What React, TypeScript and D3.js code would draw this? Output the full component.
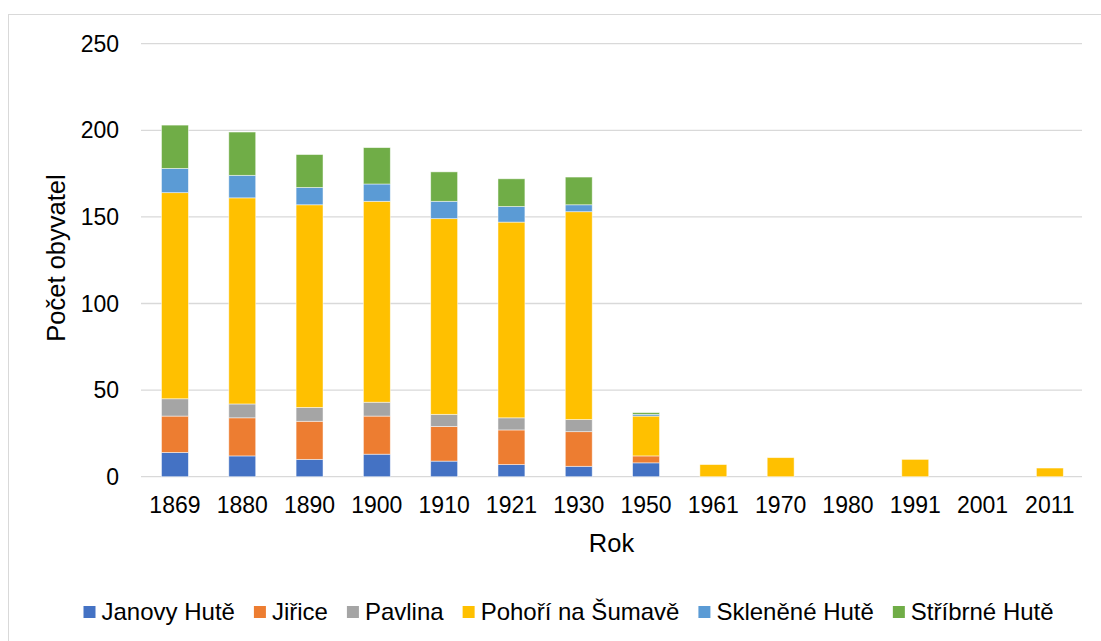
import React, { useMemo } from "react";
import * as d3 from "d3";

const years = ["1869", "1880", "1890", "1900", "1910", "1921", "1930", "1950", "1961", "1970", "1980", "1991", "2001", "2011"];

const seriesNames = ["Janovy Hutě", "Jiřice", "Pavlina", "Pohoří na Šumavě", "Skleněné Hutě", "Stříbrné Hutě"];
const seriesColors = ["#4472C4", "#ED7D31", "#A5A5A5", "#FFC000", "#5B9BD5", "#70AD47"];

const janovyHute = [14, 12, 10, 13, 9, 7, 6, 8, 0, 0, 0, 0, 0, 0];
const jirice = [21, 22, 22, 22, 20, 20, 20, 4, 0, 0, 0, 0, 0, 0];
const pavlina = [10, 8, 8, 8, 7, 7, 7, 0, 0, 0, 0, 0, 0, 0];
const pohori = [119, 119, 117, 116, 113, 113, 120, 23, 7, 11, 0, 10, 0, 5];
const sklenene = [14, 13, 10, 10, 10, 9, 4, 1, 0, 0, 0, 0, 0, 0];
const stribrne = [25, 25, 19, 21, 17, 16, 16, 1, 0, 0, 0, 0, 0, 0];

const yTicks = [0, 50, 100, 150, 200, 250];

const font = "'Liberation Sans', Arial, sans-serif";

const measure = (txt: string, size: number) => {
  const c = document.createElement("canvas").getContext("2d");
  if (!c) return txt.length * size * 0.55;
  c.font = `${size}px ${font}`;
  return c.measureText(txt).width;
};

export default function App() {
  const width = 1101;
  const height = 641;
  const plot = { left: 141.3, right: 1083.5, top: 43.7, bottom: 476.7 };

  const { x, y, stacked } = useMemo(() => {
    const x = d3.scaleBand().domain(years).range([plot.left, plot.right]).padding(0);
    const y = d3.scaleLinear().domain([0, 250]).range([plot.bottom, plot.top]);
    const values = [janovyHute, jirice, pavlina, pohori, sklenene, stribrne];
    const rows = years.map((yr, i) => {
      const r: Record<string, any> = { year: yr };
      seriesNames.forEach((s, k) => (r[s] = values[k][i]));
      return r;
    });
    const stacked = d3.stack<any>().keys(seriesNames)(rows);
    return { x, y, stacked };
  }, []);

  const barW = x.bandwidth() * 0.4;

  // legend layout
  const legendSize = 24;
  let lx = 83.5;
  const legendItems = seriesNames.map((s, i) => {
    const item = { name: s, color: seriesColors[i], x: lx };
    lx += 12 + 6 + measure(s, legendSize) + 19;
    return item;
  });

  return (
    <div style={{ position: "absolute", left: 0, top: 0 }}>
      <svg width={width} height={height} style={{ display: "block", fontFamily: font }}>
        <rect x={0} y={0} width={width} height={height} fill="#fff" />
        <rect x={8.5} y={14.5} width={1120} height={660} fill="#fff" stroke="#d9d9d9" strokeWidth={1} />

        {/* gridlines */}
        {yTicks.map((t) => (
          <line key={t} x1={141} x2={1082} y1={y(t)} y2={y(t)} stroke="#d9d9d9" strokeWidth={1.3} />
        ))}

        {/* y tick labels */}
        {yTicks.map((t) => (
          <text key={`yt${t}`} x={119} y={y(t)} dy="0.35em" textAnchor="end" fontSize={23} fill="#000">
            {t}
          </text>
        ))}

        {/* bars */}
        {stacked.map((series, k) => (
          <g key={series.key} fill={seriesColors[k]}>
            {series.map((d, i) =>
              d[1] - d[0] > 0 ? (
                <rect
                  key={i}
                  x={(x(years[i]) as number) + (x.bandwidth() - barW) / 2}
                  y={y(d[1])}
                  width={barW}
                  height={y(d[0]) - y(d[1])}
                  stroke="#fff"
                  strokeOpacity={0.6}
                  strokeWidth={0.8}
                />
              ) : null
            )}
          </g>
        ))}

        {/* x tick labels */}
        {years.map((yr) => (
          <text key={yr} x={(x(yr) as number) + x.bandwidth() / 2} y={513} textAnchor="middle" fontSize={23} fill="#000">
            {yr}
          </text>
        ))}

        {/* axis titles */}
        <text x={611.5} y={551.5} textAnchor="middle" fontSize={25.5} fill="#000">
          Rok
        </text>
        <text transform="translate(65,258) rotate(-90)" textAnchor="middle" fontSize={25.5} fill="#000">
          Počet obyvatel
        </text>

        {/* legend */}
        {legendItems.map((it) => (
          <g key={it.name}>
            <rect x={it.x} y={606} width={12} height={12} fill={it.color} />
            <text x={it.x + 18} y={620} fontSize={legendSize} fill="#000">
              {it.name}
            </text>
          </g>
        ))}
      </svg>
    </div>
  );
}
